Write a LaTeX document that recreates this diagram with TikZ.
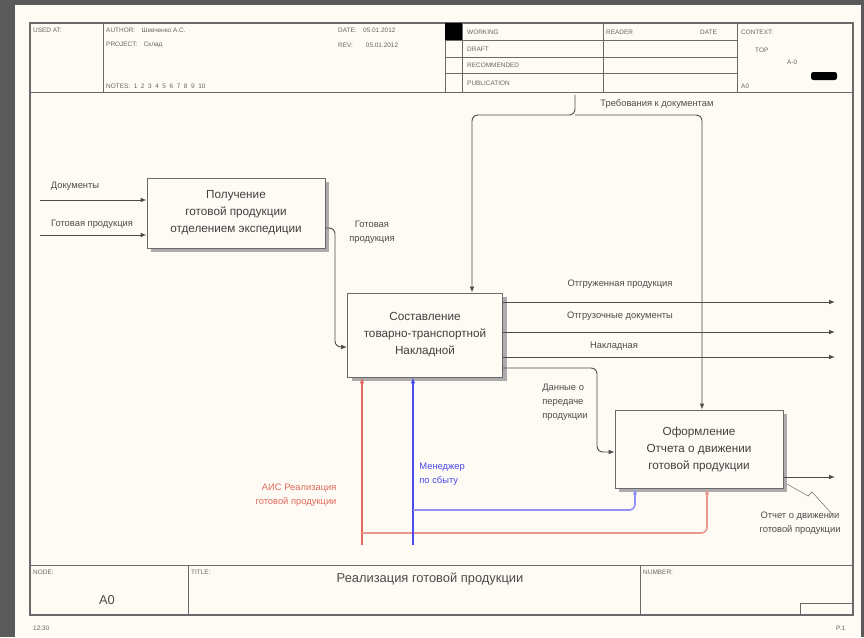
\documentclass[tikz,border=0pt]{standalone}
\usepackage{fontspec}
\setmainfont{Liberation Sans}
\usetikzlibrary{arrows.meta,positioning,calc,shadows}
\definecolor{paper}{HTML}{FDFBF3}
\definecolor{slide}{HTML}{5A5A5A}
\definecolor{ln}{HTML}{6A6A6A}
\definecolor{aisred}{HTML}{E06A60}
\definecolor{mgrblue}{HTML}{4A4AF0}

\tikzset{
  proc/.style={draw=ln, thick, fill=paper, align=center, text=black!75,
    font=\fontsize{10}{14.5}\selectfont, inner sep=2pt,
    drop shadow={shadow xshift=3.5pt, shadow yshift=-3.5pt, fill=gray!65, opacity=1}},
  arr/.style={draw=black!70, thick, rounded corners=5pt, -{Latex[length=5pt,width=4pt]}},
  lbl/.style={font=\fontsize{8}{12}\selectfont, text=black!70, align=center, inner sep=1pt},
  hdr/.style={font=\fontsize{5.5}{6}\selectfont, text=black!60, anchor=west, inner sep=0pt},
  frm/.style={draw=ln, line width=0.7pt}
}

\begin{document}
\begin{tikzpicture}[x=0.03cm,y=-0.03cm]
	% slide and page
	\fill[slide] (0,0) rectangle (864,637);
	\fill[paper] (15,5) rectangle (861,637);
	\useasboundingbox (0,0) rectangle (864,637);

	% form frame
	\draw[frm, line width=1pt] (30,23) rectangle (853,615);
	\draw[frm] (30,92) -- (853,92);
	\draw[frm] (103,23) -- (103,92);
	\draw[frm] (445,23) -- (445,92);
	\draw[frm] (462,23) -- (462,92);
	\draw[frm] (603,23) -- (603,92);
	\draw[frm] (737,23) -- (737,92);
	\foreach \yy in {40,57,73}
		\draw[frm] (445,\yy) -- (737,\yy);
	\fill[black] (445,23) rectangle (462,40);

	% header texts
	\node[hdr] (usedat) at (33,30) {USED AT:};
	\node[hdr] (author) at (106,30) {AUTHOR:\quad Шевченко А.С.};
	\node[hdr] (project) at (106,45) {PROJECT:\quad Склад};
	\node[hdr] (notes) at (106,86) {NOTES:\ \ 1\ \ 2\ \ 3\ \ 4\ \ 5\ \ 6\ \ 7\ \ 8\ \ 9\ \ 10};
	\node[hdr] (date) at (338,30) {DATE:\quad 05.01.2012};
	\node[hdr] (rev) at (338,45) {REV:\qquad 05.01.2012};
	\node[hdr] (working) at (467,32) {WORKING};
	\node[hdr] (draft) at (467,49) {DRAFT};
	\node[hdr] (recom) at (467,65) {RECOMMENDED};
	\node[hdr] (publ) at (467,83) {PUBLICATION};
	\node[hdr] (reader) at (606,32) {READER};
	\node[hdr] (rdate) at (700,32) {DATE};
	\node[hdr] (context) at (741,32) {CONTEXT:};
	\node[hdr] (top) at (755,50) {TOP};
	\node[hdr] (ctxnode) at (787,62) {A-0};
	\fill[black, rounded corners=2pt] (811,72) rectangle (837,80);
	\node[hdr] (ctxa) at (741,86) {A0};

	% footer
	\draw[frm] (30,565) -- (853,565);
	\draw[frm] (188,565) -- (188,615);
	\draw[frm] (640,565) -- (640,615);
	\draw[frm] (800,603) rectangle (853,615);
	\node[hdr] (nodelbl) at (33,572) {NODE:};
	\node[font=\fontsize{11}{12}\selectfont, text=black!70] (nodeval) at (107,600) {A0};
	\node[hdr] (titlelbl) at (191,572) {TITLE:};
	\node[font=\fontsize{11}{12}\selectfont, text=black!70] (title) at (430,579) {Реализация готовой продукции};
	\node[hdr] (numlbl) at (643,572) {NUMBER:};
	\node[hdr] (stamp) at (33,628) {12:30};
	\node[hdr] (pg) at (836,628) {P.1};

	% activities
	\node[proc, minimum width=5.34cm, minimum height=2.1cm] (prod) at (236,213)
		{Получение\\готовой продукции\\отделением экспедиции};
	\node[proc, minimum width=4.65cm, minimum height=2.52cm] (ttn) at (425,335)
		{Составление\\товарно-транспортной\\Накладной};
	\node[proc, minimum width=5.04cm, minimum height=2.34cm] (rep) at (699,449)
		{Оформление\\Отчета о движении\\готовой продукции};

	% inputs
	\coordinate (docin) at (40,200);
	\coordinate (gpin) at (40,235);
	\draw[arr] (docin) -- (prod.west |- docin);
	\draw[arr] (gpin) -- (prod.west |- gpin);
	\node[lbl] (doclbl) at (75,186) {Документы};
	\node[lbl, fill=paper] (gplbl) at (92,224) {Готовая продукция};

	% prod -> ttn
	\draw[arr] (prod.east |- 0,228) -| (335,300) |- (ttn.west |- 0,347);
	\node[lbl] (gpout) at (372,232) {Готовая\\продукция};

	% control
	\coordinate (ctrl) at (575,95);
	\coordinate (split) at (575,115);
	\draw[arr] (ctrl) -- (split) -| (ttn.north -| 472,0);
	\draw[arr] (split) -| (rep.north -| 702,0);
	\node[lbl] (ctrllbl) at (657,104) {Требования к документам};

	% outputs of ttn
	\coordinate (out1) at (835,302);
	\coordinate (out2) at (835,332);
	\coordinate (out3) at (835,357);
	\draw[arr] (ttn.east |- out1) -- (out1);
	\draw[arr] (ttn.east |- out2) -- (out2);
	\draw[arr] (ttn.east |- out3) -- (out3);
	\node[lbl] (shiplbl) at (620,284) {Отгруженная продукция};
	\node[lbl] (docslbl) at (620,316) {Отгрузочные документы};
	\node[lbl] (nakllbl) at (614,346) {Накладная};

	% ttn -> rep
	\draw[arr] (ttn.east |- 0,368) -| (597,420) |- (rep.west |- 0,452);
	\node[lbl, align=left] (datalbl) at (565,402) {Данные о\\передаче\\продукции};

	% output of rep
	\coordinate (out4) at (835,477);
	\draw[arr] (rep.east |- out4) -- (out4);
	\draw[black!60] (787,484) -- (808,496) -- (812,492) -- (832,514);
	\node[lbl] (replbl) at (800,523) {Отчет о движении\\готовой продукции};

	% mechanisms
	\coordinate (aisin) at (362,545);
	\coordinate (mgrin) at (413,545);
	\draw[arr, draw=aisred, line width=1.1pt] (aisin) -- (ttn.south -| aisin);
	\draw[arr, draw=aisred!70, line width=1.4pt] (362,533) -| (rep.south -| 707,0);
	\draw[arr, draw=mgrblue, line width=1.1pt] (mgrin) -- (ttn.south -| mgrin);
	\draw[arr, draw=mgrblue!60, line width=1.4pt] (413,510) -| (rep.south -| 635,0);
	\node[lbl, text=aisred, align=right] (aislbl) at (296,495) {АИС Реализация\\готовой продукции};
	\node[lbl, text=mgrblue, align=left, anchor=west] (mgrlbl) at (418,474) {Менеджер\\по сбыту};
\end{tikzpicture}
\end{document}
